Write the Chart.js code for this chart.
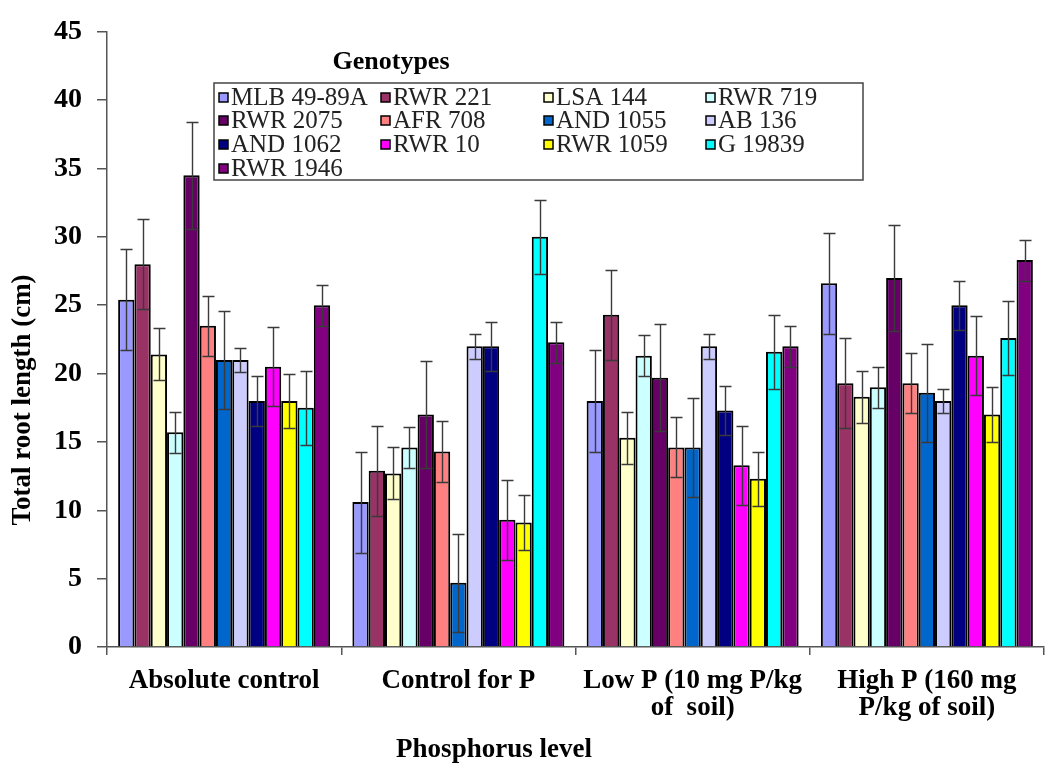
<!DOCTYPE html>
<html>
<head>
<meta charset="utf-8">
<script src="https://cdn.jsdelivr.net/npm/chart.js@4/dist/chart.umd.min.js"></script>
<style>
  html, body { margin: 0; padding: 0; background: #fff; }
  #wrap { width: 1046px; height: 766px; }
</style>
</head>
<body>
<div id="wrap"><canvas id="roots" width="1046" height="766"></canvas></div>
<script>
// phosphorus treatments (x categories)
const levels = [
    "Absolute control",
    "Control for P",
    ["Low P (10 mg P/kg", "of  soil)"],
    ["High P (160 mg", "P/kg of soil)"]
];

const genotypes = [
    "MLB 49-89A", "RWR 221", "LSA 144", "RWR 719",
    "RWR 2075", "AFR 708", "AND 1055", "AB 136",
    "AND 1062", "RWR 10", "RWR 1059", "G 19839",
    "RWR 1946"
];

// mean total root length (cm), one value per genotype
const absControl = [25.4, 28.0, 21.4, 15.7, 34.5, 23.5, 21.0, 21.0, 18.0, 20.5, 18.0, 17.5, 25.0];
const controlP   = [10.6, 12.9, 12.7, 14.6, 17.0, 14.3, 4.7, 22.0, 22.0, 9.3, 9.1, 30.0, 22.3];
const lowP       = [18.0, 24.3, 15.3, 21.3, 19.7, 14.6, 14.6, 22.0, 17.3, 13.3, 12.3, 21.6, 22.0];
const highP      = [26.6, 19.3, 18.3, 19.0, 27.0, 19.3, 18.6, 18.0, 25.0, 21.3, 17.0, 22.6, 28.3];

// error bar half-length per genotype
const errors = [3.7, 3.3, 1.9, 1.5, 3.9, 2.2, 3.6, 0.9, 1.8, 2.9, 2.0, 2.7, 1.5];

const yTicks = { min: 0, max: 45, step: 5 };

var barColors = [
    "#9999FF", "#993366", "#FFFFCC", "#CCFFFF",
    "#660066", "#FF8080", "#0066CC", "#CCCCFF",
    "#000080", "#FF00FF", "#FFFF00", "#00FFFF",
    "#800080"
];

const serif = '"Times New Roman", "Liberation Serif", Times, serif';

const datasets = genotypes.map((g, i) => ({
    label: g,
    data: [absControl[i], controlP[i], lowP[i], highP[i]],
    errs: [errors[i], errors[i], errors[i], errors[i]],
    backgroundColor: barColors[i],
    borderColor: "#000",
    borderWidth: 2,
    categoryPercentage: 0.905,
    barPercentage: 1.0
}));

// whiskers on top of each bar
const errorBars = {
    id: "errorBars",
    afterDatasetsDraw(chart) {
        const ctx = chart.ctx;
        const y = chart.scales.y;
        ctx.save();
        ctx.strokeStyle = "#3a3a3a";
        ctx.lineWidth = 1.4;
        chart.data.datasets.forEach((ds, di) => {
            const meta = chart.getDatasetMeta(di);
            meta.data.forEach((bar, k) => {
                const v = ds.data[k], e = ds.errs[k];
                const top = Math.round(y.getPixelForValue(v + e)) + 0.5;
                const bot = Math.round(y.getPixelForValue(v - e)) + 0.5;
                const x = Math.round(bar.x) + 0.5;
                ctx.beginPath();
                ctx.moveTo(x, top); ctx.lineTo(x, bot);
                ctx.moveTo(x - 6, top); ctx.lineTo(x + 6, top);
                ctx.moveTo(x - 6, bot); ctx.lineTo(x + 6, bot);
                ctx.stroke();
            });
        });
        ctx.restore();
    }
};

// boxed legend with a title, four columns
const gridLegend = {
    id: "gridLegend",
    afterDraw(chart) {
        const ctx = chart.ctx;
        const colX = [223, 385, 548, 710];
        const rowY = [97, 120, 144, 168];
        ctx.save();
        ctx.fillStyle = "#fff";
        ctx.fillRect(214, 83, 649, 97);
        ctx.strokeStyle = "#444";
        ctx.lineWidth = 1.5;
        ctx.strokeRect(214, 83, 649, 97);

        ctx.fillStyle = "#000";
        ctx.font = "bold 26px " + serif;
        ctx.textAlign = "center";
        ctx.textBaseline = "middle";
        ctx.fillText("Genotypes", 391, 62);

        ctx.font = "25px " + serif;
        ctx.textAlign = "left";
        genotypes.forEach((g, i) => {
            const cx = colX[i % 4], cy = rowY[Math.floor(i / 4)];
            ctx.fillStyle = barColors[i];
            ctx.fillRect(cx - 4, cy - 4, 9, 9);
            ctx.strokeStyle = "#000";
            ctx.lineWidth = 1.5;
            ctx.strokeRect(cx - 4, cy - 4, 9, 9);
            ctx.fillStyle = "#222";
            ctx.fillText(g, cx + 8, cy + 1);
        });
        ctx.restore();
    }
};

// axis titles
const axisTitles = {
    id: "axisTitles",
    afterDraw(chart) {
        const ctx = chart.ctx;
        ctx.save();
        ctx.fillStyle = "#000";
        ctx.font = "bold 27px " + serif;
        ctx.textAlign = "center";
        ctx.textBaseline = "middle";
        ctx.fillText("Phosphorus level", 494, 750);
        ctx.translate(23, 400);
        ctx.rotate(-Math.PI / 2);
        ctx.fillText("Total root length (cm)", 0, 0);
        ctx.restore();
    }
};

let rootChart = new Chart(document.getElementById("roots"), {
    type: "bar",
    data: { labels: levels, datasets: datasets },
    plugins: [errorBars, gridLegend, axisTitles],
    options: {
        responsive: false,
        animation: false,
        layout: { padding: { top: 23, right: 2, left: 0, bottom: 0 } },
        plugins: {
            legend: { display: false },
            tooltip: { enabled: false }
        },
        scales: {
            x: {
                offset: true,
                grid: {
                    offset: true,
                    drawOnChartArea: false,
                    drawTicks: true,
                    tickLength: 8,
                    color: "#555",
                    lineWidth: 1.5
                },
                border: { color: "#555", width: 1.5 },
                ticks: {
                    color: "#000",
                    padding: 13,
                    maxRotation: 0,
                    autoSkip: false,
                    font: { family: serif, size: 27, weight: "bold", lineHeight: 1.0 }
                },
                afterFit(scale) { scale.height = 119; }
            },
            y: {
                min: yTicks.min,
                max: yTicks.max,
                grid: {
                    drawOnChartArea: false,
                    drawTicks: true,
                    tickLength: 10,
                    color: "#555",
                    lineWidth: 1.5
                },
                border: { color: "#555", width: 1.5 },
                ticks: {
                    stepSize: yTicks.step,
                    color: "#000",
                    padding: 15,
                    font: { family: serif, size: 28, weight: "bold" }
                },
                afterFit(scale) { scale.width = 107; }
            }
        }
    }
});
</script>
</body>
</html>
